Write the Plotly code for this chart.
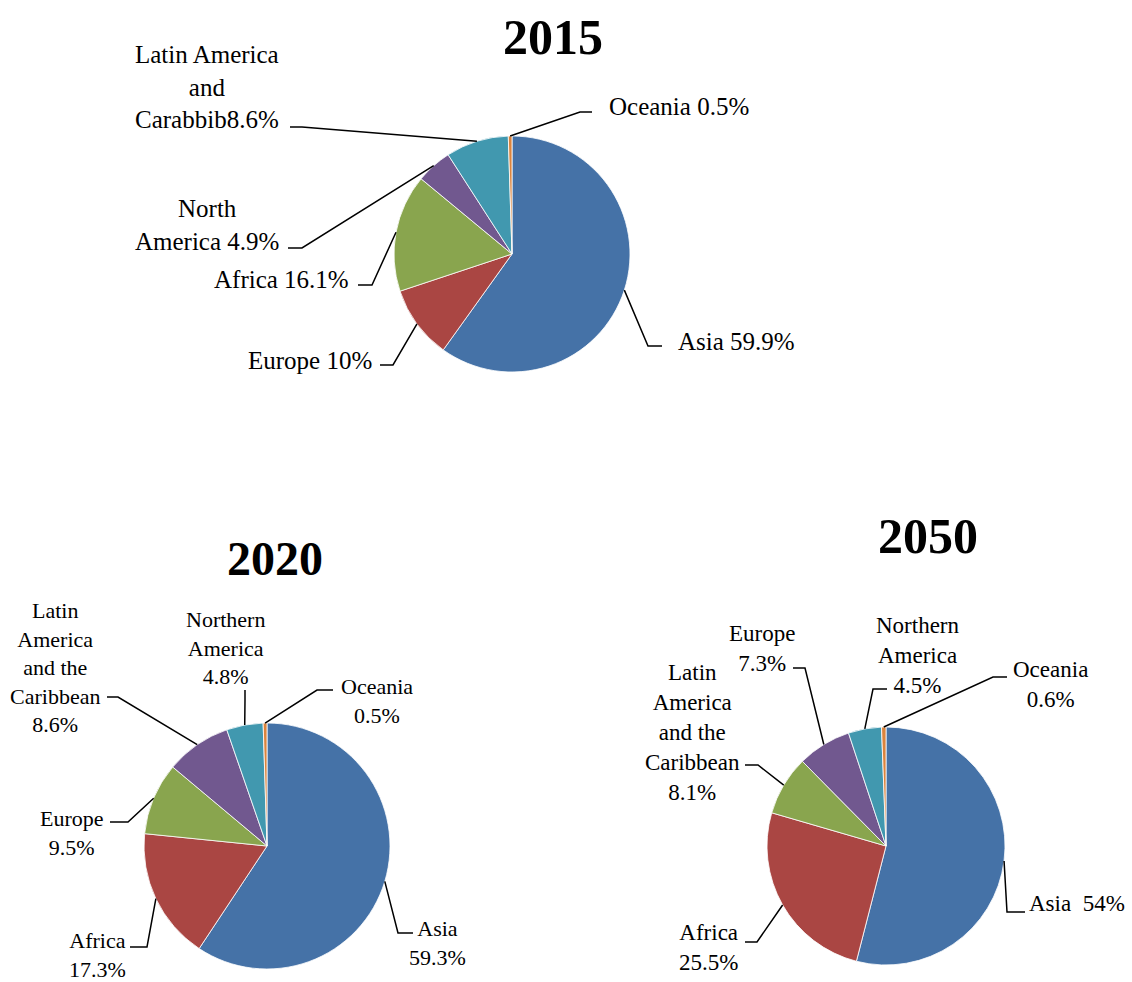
import math

import plotly.graph_objects as go

W, H = 1132, 982

YEARS = ["2015", "2020", "2050"]

REGIONS_2015 = ["Asia", "Europe", "Africa", "North America",
                "Latin America and Carabbib", "Oceania"]
SHARES_2015 = [59.9, 10, 16.1, 4.9, 8.6, 0.5]
LABELS_2015 = ["Asia {}", "Europe {}", "Africa {}", "North<br>America {}",
               "Latin America<br>and<br>Carabbib{}", "Oceania {}"]

REGIONS_2020 = ["Asia", "Africa", "Europe", "Latin America and the Caribbean",
                "Northern America", "Oceania"]
SHARES_2020 = [59.3, 17.3, 9.5, 8.6, 4.8, 0.5]
LABELS_2020 = ["Asia<br>{}", "Africa<br>{}", "Europe<br>{}",
               "Latin<br>America<br>and the<br>Caribbean<br>{}",
               "Northern<br>America<br>{}", "Oceania<br>{}"]

REGIONS_2050 = ["Asia", "Africa", "Latin America and the Caribbean", "Europe",
                "Northern America", "Oceania"]
SHARES_2050 = [54, 25.5, 8.1, 7.3, 4.5, 0.6]
LABELS_2050 = ["Asia\u00a0 {}", "Africa<br>{}",
               "Latin<br>America<br>and the<br>Caribbean<br>{}",
               "Europe<br>{}", "Northern<br>America<br>{}", "Oceania<br>{}"]

DATA = {
    "2015": (REGIONS_2015, SHARES_2015, LABELS_2015),
    "2020": (REGIONS_2020, SHARES_2020, LABELS_2020),
    "2050": (REGIONS_2050, SHARES_2050, LABELS_2050),
}

# slice colours go by position (clockwise from 12 o'clock), excel 2007 palette
SLICE_COLORS = ["#4572A7", "#AA4643", "#89A54E", "#71588F", "#4198AF", "#DB843D"]
FONT = "Liberation Serif, Times New Roman, serif"

# page layout in pixels: pie centre/radius, title, label centres, leader bends
LAYOUT = {
    "2015": dict(
        cx=512, cy=254, r=118, size=25, title=(553, 37, 50),
        text=[(736, 341), (310, 360), (281, 279), (207, 225), (207, 87), (679, 106)],
        bends=[[(648, 346), (662, 346)], [(393, 365), (380, 365)],
               [(372, 285), (358, 285)], [(302, 248), (288, 248)],
               [(302, 127), (290, 127)], [(580, 112), (592, 112)]],
    ),
    "2020": dict(
        cx=267, cy=846, r=123, size=22, title=(275, 558, 48),
        text=[(438, 943), (97, 955), (72, 833), (55, 667), (225, 648), (377, 701)],
        bends=[[(398, 933), (413, 933)], [(147, 947), (130, 947)],
               [(128, 822), (110, 822)], [(118, 697), (107, 697)],
               [(245, 700), (245, 690)], [(317, 690), (333, 690)]],
    ),
    "2050": dict(
        cx=886, cy=846, r=119, size=23, title=(928, 536, 50),
        text=[(1077, 903), (708, 947), (692, 732), (762, 648), (918, 655), (1050, 684)],
        bends=[[(1007, 912), (1025, 912)], [(757, 942), (745, 942)],
               [(758, 765), (745, 765)], [(805, 668), (793, 668)],
               [(873, 689), (887, 689)], [(993, 677), (1007, 677)]],
    ),
}


def px(x):
    return x / W


def py(y):
    return 1 - y / H


fig = go.Figure()
annotations = []
shapes = []

for year in YEARS:
    regions, shares, fmts = DATA[year]
    lay = LAYOUT[year]
    cx, cy, r = lay["cx"], lay["cy"], lay["r"]

    fig.add_trace(go.Pie(
        labels=regions,
        values=shares,
        sort=False,
        direction="clockwise",
        rotation=0,
        textinfo="none",
        marker=dict(colors=SLICE_COLORS, line=dict(color="white", width=0.8)),
        domain=dict(x=[px(cx - r), px(cx + r)], y=[py(cy + r), py(cy - r)]),
        hovertemplate="%{label}: %{value}%<extra>" + year + "</extra>",
        showlegend=False,
    ))

    tx, ty, tsize = lay["title"]
    annotations.append(dict(
        x=px(tx), y=py(ty), xref="paper", yref="paper", showarrow=False,
        text=f"<b>{year}</b>", font=dict(family=FONT, size=tsize, color="black"),
        xanchor="center", yanchor="middle",
    ))

    total = sum(shares)
    cum = 0.0
    for v, fmt, (lx, ly), bends in zip(shares, fmts, lay["text"], lay["bends"]):
        # leader starts on the rim at the slice's mid-angle
        theta = 2 * math.pi * (cum + v / 2) / total
        cum += v
        sx = cx + r * math.sin(theta)
        sy = cy - r * math.cos(theta)
        pts = [(sx, sy)] + bends
        path = "M " + " L ".join(f"{px(x):.5f},{py(y):.5f}" for x, y in pts)
        shapes.append(dict(type="path", xref="paper", yref="paper", path=path,
                           line=dict(color="black", width=1.5)))
        annotations.append(dict(
            x=px(lx), y=py(ly), xref="paper", yref="paper", showarrow=False,
            text=fmt.format(f"{v:g}%"), align="center",
            font=dict(family=FONT, size=lay["size"], color="black"),
            xanchor="center", yanchor="middle",
        ))

fig.update_layout(
    width=W,
    height=H,
    margin=dict(l=0, r=0, t=0, b=0),
    paper_bgcolor="white",
    plot_bgcolor="white",
    annotations=annotations,
    shapes=shapes,
)

# drop the browser's default body margin so the figure fills the window
fig.write_html(
    "out.html",
    config={"displayModeBar": False},
    post_script="document.body.style.margin='0';document.body.style.overflow='hidden';",
)
